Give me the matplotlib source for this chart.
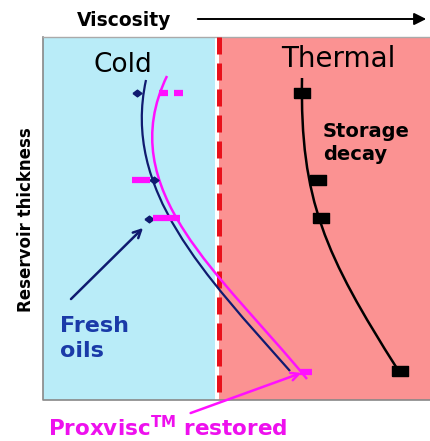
import matplotlib.pyplot as plt
from matplotlib.patches import Rectangle, PathPatch
from matplotlib.path import Path

# positions, in pixel units (x right, y down)
# each curve: start point, two bezier control points, end point
fresh_x = [146, 122, 205, 290]
fresh_y = [80, 190, 275, 371]
fresh_mark_x = [137, 154, 149]
fresh_mark_y = [93, 180, 219]

restored_x = [167, 112, 222, 307]
restored_y = [76, 190, 275, 379]
# magenta dash marks: (x start, x end, y)
restored_dash_x0 = [159, 174, 132, 153, 300]
restored_dash_x1 = [168, 183, 150, 180, 312]
restored_dash_y = [93, 93, 180, 218, 372]

thermal_x = [302, 300, 325, 398]
thermal_y = [78, 200, 255, 370]
thermal_mark_x = [302, 318, 321, 400]
thermal_mark_y = [93, 180, 218, 371]

W, H = 431, 441
fig = plt.figure(figsize=(W / 100, H / 100), dpi=100)
ax = fig.add_axes([0, 0, 1, 1])
ax.set_xlim(0, W)
ax.set_ylim(H, 0)
ax.axis('off')

# background panels
x_left, x_blue_end, x_split, x_right, y_top, y_bot = 43, 215, 219, 432, 37, 400
ax.add_patch(Rectangle((x_left, y_top), x_blue_end - x_left, y_bot - y_top,
                       facecolor='#b9ecf8', edgecolor='none', zorder=0))
ax.add_patch(Rectangle((x_split, y_top), x_right - x_split, y_bot - y_top,
                       facecolor='#fb9292', edgecolor='none', zorder=0))
ax.plot([x_left, x_left, x_right], [y_top, y_bot, y_bot], color='#888888', lw=1.2, zorder=1)
ax.plot([x_left, x_right], [y_top, y_top], color='#aaaaaa', lw=1.0, zorder=1)
ax.plot([x_split, x_split], [y_top, y_bot], color='#e8101a', lw=3.6, ls=(0, (3.4, 1.8)),
        dash_capstyle='butt', zorder=2)


def draw_curve(xs, ys, color, lw):
    verts = list(zip(xs, ys))
    codes = [Path.MOVETO, Path.CURVE4, Path.CURVE4, Path.CURVE4]
    ax.add_patch(PathPatch(Path(verts, codes), facecolor='none', edgecolor=color,
                           lw=lw, zorder=3, capstyle='butt'))


# diamond and wide-box markers (picture is stretched sideways)
diamond = [(-1.35, 0), (0, 1), (1.35, 0), (0, -1), (-1.35, 0)]
box = [(-1.5, -1), (1.5, -1), (1.5, 1), (-1.5, 1), (-1.5, -1)]

# curves
draw_curve(fresh_x, fresh_y, '#101a70', 1.6)
ax.plot(fresh_mark_x, fresh_mark_y, ls='none', marker=diamond, color='#101a70', ms=6.5, zorder=4)
draw_curve(restored_x, restored_y, '#ff10ff', 1.8)
for x0, x1, y in zip(restored_dash_x0, restored_dash_x1, restored_dash_y):
    ax.plot([x0, x1], [y, y], color='#ff10ff', lw=4.5, solid_capstyle='butt', zorder=4)
draw_curve(thermal_x, thermal_y, 'black', 1.8)
ax.plot(thermal_mark_x, thermal_mark_y, ls='none', marker=box, color='black', ms=11, zorder=4)

# arrows
ax.annotate('', xy=(145, 226), xytext=(69, 301),
            arrowprops=dict(arrowstyle='->', color='#101a70', lw=1.8, mutation_scale=14))
ax.annotate('', xy=(304, 372), xytext=(188, 414),
            arrowprops=dict(arrowstyle='->', color='#ff10ff', lw=1.8, mutation_scale=14))
ax.annotate('', xy=(429, 19), xytext=(195, 19),
            arrowprops=dict(arrowstyle='-|>', color='black', lw=1.4, mutation_scale=18))

# labels
ax.text(124, 26, 'Viscosity', fontsize=13.5, fontweight='bold', ha='center', va='baseline')
ax.text(123, 72, 'Cold', fontsize=19, ha='center', va='baseline')
ax.text(338, 67, 'Thermal', fontsize=20, ha='center', va='baseline')
ax.text(323, 137, 'Storage', fontsize=14, fontweight='bold', ha='left', va='baseline')
ax.text(323, 160, 'decay', fontsize=14, fontweight='bold', ha='left', va='baseline')
ax.text(35, 220, 'Reservoir thickness', fontsize=12, fontweight='bold', rotation=90,
        ha='right', va='center')
ax.text(60, 332, 'Fresh', fontsize=16, fontweight='bold', color='#1a3aa8',
        ha='left', va='baseline')
ax.text(60, 357, 'oils', fontsize=16, fontweight='bold', color='#1a3aa8',
        ha='left', va='baseline')
ax.text(48, 436, r'Proxvisc$^{\mathbf{TM}}$ restored', fontsize=15.5, fontweight='bold',
        color='#ee10ee', ha='left', va='baseline')

fig.savefig('out.png', dpi=100)
